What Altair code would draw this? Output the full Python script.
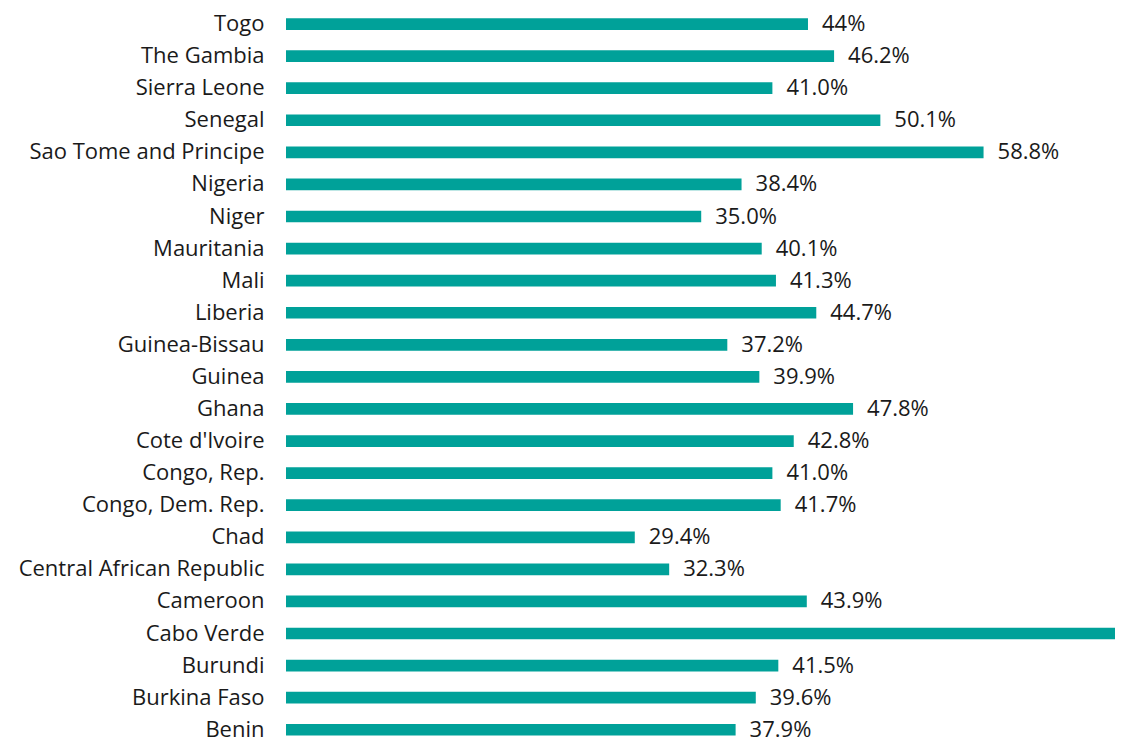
import altair as alt
import pandas as pd

countries = ["Togo", "The Gambia", "Sierra Leone", "Senegal", "Sao Tome and Principe",
             "Nigeria", "Niger", "Mauritania", "Mali", "Liberia", "Guinea-Bissau", "Guinea",
             "Ghana", "Cote d'Ivoire", "Congo, Rep.", "Congo, Dem. Rep.", "Chad",
             "Central African Republic", "Cameroon", "Cabo Verde", "Burundi", "Burkina Faso", "Benin"]
values = [44.0, 46.2, 41.0, 50.1, 58.8, 38.4, 35.0, 40.1, 41.3, 44.7, 37.2, 39.9,
          47.8, 42.8, 41.0, 41.7, 29.4, 32.3, 43.9, 76.0, 41.5, 39.6, 37.9]
labels = ["44%", "46.2%", "41.0%", "50.1%", "58.8%", "38.4%", "35.0%", "40.1%", "41.3%",
          "44.7%", "37.2%", "39.9%", "47.8%", "42.8%", "41.0%", "41.7%", "29.4%", "32.3%",
          "43.9%", "", "41.5%", "39.6%", "37.9%"]

df = pd.DataFrame({"country": countries, "value": values, "label": labels})

FONT = "Open Sans"
FS = 22
TEAL = "#00a199"
TXT = "#1a1a1a"

y = alt.Y("country:N", sort=countries, title=None,
          scale=alt.Scale(paddingInner=0.6353, paddingOuter=0.3522, align=0.451),
          axis=alt.Axis(ticks=False, domain=False, labelPadding=22, labelFontSize=FS,
                        labelFont=FONT, labelColor=TXT, labelLimit=400))
x = alt.X("value:Q", title=None, scale=alt.Scale(domain=[0, 69.88], nice=False),
          axis=None)

bars = alt.Chart(df).mark_bar(color=TEAL, clip=True).encode(x=x, y=y)
text = alt.Chart(df).mark_text(align="left", baseline="middle", dx=14, dy=0, fontSize=FS,
                               font=FONT, color=TXT).encode(x=x, y=y, text="label:N")

chart = (bars + text).properties(
    width=829, height=740,
    autosize=alt.AutoSizeParams(type="none"),
    padding={"left": 278, "top": 0, "right": 0, "bottom": 0},
).configure(background="white").configure_view(stroke=None)

chart.save("out.html", embed_options={"renderer": "svg", "actions": False})
